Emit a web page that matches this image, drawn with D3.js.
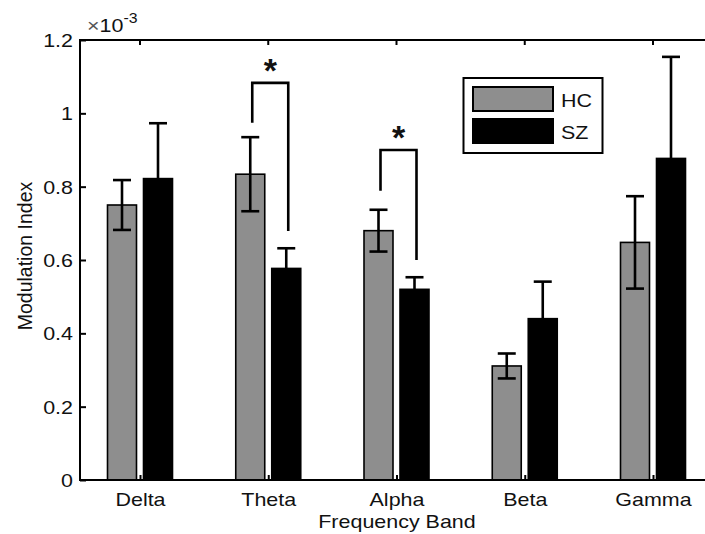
<!DOCTYPE html>
<html>
<head>
    <meta charset="utf-8">
    <style>
        body { margin: 0; background: #fff; }
        svg { display: block; }
        text { font-family: 'Liberation Sans', Arial, sans-serif; fill: #111; }
    </style>
</head>
<body>
    <svg width="705" height="534"></svg>

<script src="https://d3js.org/d3.v7.min.js"></script>
<script>
    // values in units of 1e-3
    let bands = ["Delta", "Theta", "Alpha", "Beta", "Gamma"]
    let hcMean = [0.750, 0.834, 0.680, 0.311, 0.648]
    let hcErr = [0.068, 0.101, 0.057, 0.034, 0.126]
    let szMean = [0.822, 0.577, 0.520, 0.440, 0.877]
    let szErr = [0.151, 0.055, 0.033, 0.101, 0.277]
    let yTicks = [0, 0.2, 0.4, 0.6, 0.8, 1, 1.2]
    // significance brackets: band, top, left foot, right foot
    let sigBand = ["Theta", "Alpha"]
    let sigTop = [1.083, 0.900]
    let sigLeft = [0.974, 0.789]
    let sigRight = [0.679, 0.600]

    let svg = d3.select("svg")
    let m = { left: 80, right: 717, top: 40, bottom: 480 }
    let sx = 1.13 // the picture's text is a bit wide

    let x = d3.scaleLinear().domain([1, 5]).range([140, 653])
    let y = d3.scaleLinear().domain([0, 1.2]).range([m.bottom, m.top])

    let rows = bands.map((b, i) => ({ band: b, i: i + 1, hc: hcMean[i], hce: hcErr[i], sz: szMean[i], sze: szErr[i] }))

    // bars
    let barW = 29
    svg.append("g").selectAll("rect")
        .data(rows).join("rect")
        .attr("x", d => x(d.i) - 32.5)
        .attr("y", d => y(d.hc))
        .attr("width", barW)
        .attr("height", d => y(0) - y(d.hc))
        .attr("fill", "#8e8e8e")
        .attr("stroke", "#000")
        .attr("stroke-width", 1.6)
    svg.append("g").selectAll("rect")
        .data(rows).join("rect")
        .attr("x", d => x(d.i) + 3.5)
        .attr("y", d => y(d.sz))
        .attr("width", barW)
        .attr("height", d => y(0) - y(d.sz))
        .attr("fill", "#000")
        .attr("stroke", "#000")
        .attr("stroke-width", 1.6)

    // error bars
    function errBars(off, k, e) {
        let g = svg.append("g").attr("stroke", "#000").attr("stroke-width", 2.6)
        g.append("g").selectAll("line").data(rows).join("line")
            .attr("x1", d => x(d.i) + off).attr("x2", d => x(d.i) + off)
            .attr("y1", d => y(d[k] - d[e])).attr("y2", d => y(d[k] + d[e]))
        g.append("g").selectAll("line").data(rows).join("line")
            .attr("x1", d => x(d.i) + off - 9).attr("x2", d => x(d.i) + off + 9)
            .attr("y1", d => y(d[k] + d[e])).attr("y2", d => y(d[k] + d[e]))
        g.append("g").selectAll("line").data(rows).join("line")
            .attr("x1", d => x(d.i) + off - 9).attr("x2", d => x(d.i) + off + 9)
            .attr("y1", d => y(d[k] - d[e])).attr("y2", d => y(d[k] - d[e]))
    }
    errBars(-18, "hc", "hce")
    errBars(18, "sz", "sze")

    // significance brackets
    let sig = sigBand.map((b, i) => ({ i: bands.indexOf(b) + 1, top: sigTop[i], l: sigLeft[i], r: sigRight[i] }))
    svg.append("g").selectAll("path").data(sig).join("path")
        .attr("d", d => `M${x(d.i) - 16},${y(d.l)}V${y(d.top)}H${x(d.i) + 20}V${y(d.r)}`)
        .attr("fill", "none")
        .attr("stroke", "#000")
        .attr("stroke-width", 2.6)
    svg.append("g").selectAll("text").data(sig).join("text")
        .attr("x", d => x(d.i) + 2)
        .attr("y", d => y(d.top) - 1)
        .attr("text-anchor", "middle")
        .style("font-size", "34px")
        .style("font-weight", "bold")
        .text("*")

    // frame
    svg.append("rect")
        .attr("x", m.left).attr("y", m.top)
        .attr("width", m.right - m.left).attr("height", m.bottom - m.top)
        .attr("fill", "none").attr("stroke", "#000").attr("stroke-width", 2)

    // y axis (ticks inward)
    let yAxis = svg.append("g").attr("transform", `translate(${m.left},0)`)
        .call(d3.axisLeft(y).tickValues(yTicks).tickSizeInner(-6).tickSizeOuter(0)
            .tickFormat(d => d3.format("~g")(d)))
    yAxis.select(".domain").remove()
    yAxis.selectAll("line").attr("stroke-width", 2)
    yAxis.selectAll("text")
        .attr("x", null).attr("dy", null)
        .attr("text-anchor", "end")
        .attr("dominant-baseline", "central")
        .style("font-size", "19px").style("font-family", "'Liberation Sans', Arial, sans-serif")
        .attr("transform", `translate(-7,0) scale(${sx},1)`)

    // x axis (ticks inward)
    let xAxis = svg.append("g").attr("transform", `translate(0,${m.bottom})`)
        .call(d3.axisBottom(x).tickValues([1, 2, 3, 4, 5]).tickSizeInner(-5).tickSizeOuter(0)
            .tickFormat(d => bands[d - 1]))
    xAxis.select(".domain").remove()
    xAxis.selectAll("line").attr("stroke-width", 2)
    xAxis.selectAll("text")
        .attr("y", null).attr("dy", null)
        .attr("transform", `translate(0,26) scale(${sx},1)`)
        .style("font-size", "19px").style("font-family", "'Liberation Sans', Arial, sans-serif")

    // top ticks
    svg.append("g").selectAll("line").data([1, 2, 3, 4, 5]).join("line")
        .attr("x1", d => x(d)).attr("x2", d => x(d))
        .attr("y1", m.top).attr("y2", m.top + 5)
        .attr("stroke", "#000").attr("stroke-width", 2)

    // exponent
    let ex = svg.append("text")
        .attr("transform", `translate(87,32) scale(${sx},1)`)
        .style("font-size", "19px")
    ex.append("tspan").style("fill", "#555").text("\u00d7")
    ex.append("tspan").text("10")
    ex.append("tspan").attr("dy", -9).style("font-size", "14px").text("-3")

    // axis titles
    svg.append("text")
        .attr("transform", `translate(397,528) scale(${sx},1)`)
        .attr("text-anchor", "middle")
        .style("font-size", "19px")
        .text("Frequency Band")
    svg.append("text")
        .attr("transform", "translate(32,256) rotate(-90)")
        .attr("text-anchor", "middle")
        .style("font-size", "19.5px")
        .text("Modulation Index")

    // legend
    let lg = svg.append("g")
    lg.append("rect").attr("x", 463.5).attr("y", 78).attr("width", 139).attr("height", 75)
        .attr("fill", "#fff").attr("stroke", "#000").attr("stroke-width", 2)
    let keys = [{ name: "HC", fill: "#8e8e8e" }, { name: "SZ", fill: "#000" }]
    lg.selectAll("rect.k").data(keys).join("rect")
        .attr("class", "k")
        .attr("x", 473).attr("y", (d, i) => 87 + i * 32)
        .attr("width", 80).attr("height", 24)
        .attr("fill", d => d.fill).attr("stroke", "#000").attr("stroke-width", 2)
    lg.selectAll("text").data(keys).join("text")
        .attr("transform", (d, i) => `translate(561,${100 + i * 32}) scale(${sx},1)`)
        .attr("dominant-baseline", "central")
        .style("font-size", "19px")
        .text(d => d.name)
</script>
</body>
</html>
